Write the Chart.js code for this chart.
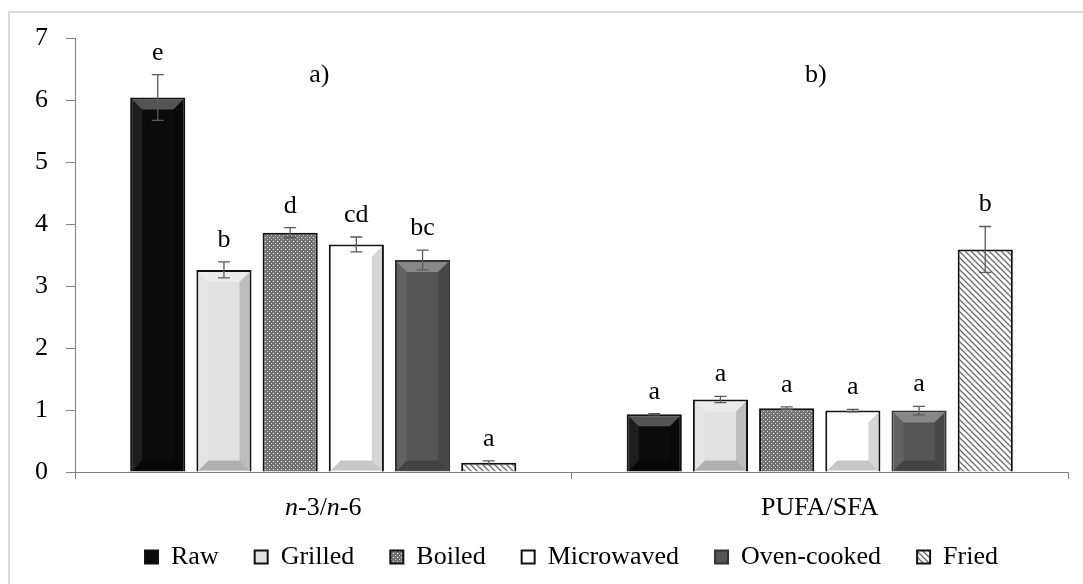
<!DOCTYPE html>
<html>
<head>
<meta charset="utf-8">
<script src="https://cdn.jsdelivr.net/npm/chart.js@4/dist/chart.umd.min.js"></script>
<style>
  html, body { margin: 0; padding: 0; background: #fff; overflow: hidden; }
  canvas { display: block; }
</style>
</head>
<body>
<canvas id="chart" width="1083" height="584"></canvas>
<script>
var categories = ["n-3/n-6", "PUFA/SFA"];
var methods = ["Raw", "Grilled", "Boiled", "Microwaved", "Oven-cooked", "Fried"];

// means
var n3n6 = [6.04, 3.26, 3.86, 3.67, 3.42, 0.15];
var pufaSfa = [0.93, 1.17, 1.03, 0.99, 0.99, 3.59];

// half length of the error bars
var errN3n6 = [0.37, 0.13, 0.08, 0.12, 0.16, 0.03];
var errPufaSfa = [0.01, 0.05, 0.02, 0.02, 0.07, 0.37];

var lettersN3n6 = ["e", "b", "d", "cd", "bc", "a"];
var lettersPufaSfa = ["a", "a", "a", "a", "a", "b"];
var panelLabels = ["a)", "b)"];
var yTicks = [0, 1, 2, 3, 4, 5, 6, 7];

var serif = "'Liberation Serif', 'Times New Roman', serif";

function makeTile(size, paint) {
  var c = document.createElement("canvas");
  c.width = size;
  c.height = size;
  paint(c.getContext("2d"));
  return document.createElement("canvas").getContext("2d").createPattern(c, "repeat");
}

var dotted = makeTile(4, function(g) {
  g.fillStyle = "#747474";
  g.fillRect(0, 0, 4, 4);
  g.fillStyle = "#ececec";
  g.fillRect(1, 1, 1, 1);
  g.fillStyle = "#c4c4c4";
  g.fillRect(3, 3, 1, 1);
});

var hatched = makeTile(6, function(g) {
  g.fillStyle = "#fff";
  g.fillRect(0, 0, 6, 6);
  g.strokeStyle = "#6a6a6a";
  g.lineWidth = 1.3;
  g.beginPath();
  g.moveTo(-1, -1); g.lineTo(7, 7);
  g.moveTo(-1, 5); g.lineTo(1, 7);
  g.moveTo(5, -1); g.lineTo(7, 1);
  g.stroke();
});

var fills = ["#0b0b0b", "#e2e2e2", dotted, "#ffffff", "#555555", hatched];
var borders = ["#111", "#111", "#111", "#111", "#333", "#111"];
var bevels = [true, true, false, true, true, false];

var datasets = methods.map(function(m, i) {
  return {
    label: m,
    data: [n3n6[i], pufaSfa[i]],
    errors: [errN3n6[i], errPufaSfa[i]],
    letters: [lettersN3n6[i], lettersPufaSfa[i]],
    backgroundColor: fills[i],
    borderColor: borders[i],
    borderWidth: 2,
    bevel: bevels[i],
    categoryPercentage: 0.8,
    barPercentage: 0.833
  };
});

var framePlugin = {
  id: "frame",
  beforeDraw: function(chart) {
    var ctx = chart.ctx;
    ctx.save();
    ctx.fillStyle = "#fff";
    ctx.fillRect(0, 0, chart.width, chart.height);
    ctx.strokeStyle = "#d9d9d9";
    ctx.lineWidth = 2;
    ctx.strokeRect(9, 12, 1200, 700);
    ctx.restore();
  }
};

function drawBevel(ctx, x, top, base, width) {
  var l = x - width / 2 + 2, r = x + width / 2 - 2;
  var t = top + 2, b = base - 1;
  var d = Math.min(10, (b - t) / 2);
  if (d <= 1) return;
  ctx.fillStyle = "rgba(255,255,255,0.30)";
  ctx.beginPath();
  ctx.moveTo(l, t); ctx.lineTo(r, t); ctx.lineTo(r - d, t + d); ctx.lineTo(l + d, t + d);
  ctx.closePath(); ctx.fill();
  ctx.fillStyle = "rgba(0,0,0,0.22)";
  ctx.beginPath();
  ctx.moveTo(l, b); ctx.lineTo(r, b); ctx.lineTo(r - d, b - d); ctx.lineTo(l + d, b - d);
  ctx.closePath(); ctx.fill();
  ctx.fillStyle = "rgba(0,0,0,0.16)";
  ctx.beginPath();
  ctx.moveTo(r, t); ctx.lineTo(r, b); ctx.lineTo(r - d, b - d); ctx.lineTo(r - d, t + d);
  ctx.closePath(); ctx.fill();
  ctx.fillStyle = "rgba(255,255,255,0.08)";
  ctx.beginPath();
  ctx.moveTo(l, t); ctx.lineTo(l, b); ctx.lineTo(l + d, b - d); ctx.lineTo(l + d, t + d);
  ctx.closePath(); ctx.fill();
}

function drawMixed(ctx, text, cx, cy) {
  // italic "n" in front of a dash, the rest upright
  var parts = text.split(/(n(?=-))/).filter(function(p) { return p.length; });
  var fonts = parts.map(function(p) {
    return (p === "n" ? "italic " : "") + "26px " + serif;
  });
  var total = 0;
  parts.forEach(function(p, k) { ctx.font = fonts[k]; total += ctx.measureText(p).width; });
  var x = cx - total / 2;
  parts.forEach(function(p, k) {
    ctx.font = fonts[k];
    ctx.fillText(p, x, cy);
    x += ctx.measureText(p).width;
  });
}

var decorPlugin = {
  id: "decor",
  afterDatasetsDraw: function(chart) {
    var ctx = chart.ctx;
    var yScale = chart.scales.y;
    ctx.save();
    chart.data.datasets.forEach(function(ds, i) {
      var meta = chart.getDatasetMeta(i);
      meta.data.forEach(function(bar, j) {
        var p = bar.getProps(["x", "y", "base", "width"], true);
        if (ds.bevel) drawBevel(ctx, p.x, p.y, p.base, p.width);
        var v = ds.data[j], e = ds.errors[j];
        var yHi = yScale.getPixelForValue(v + e);
        var yLo = yScale.getPixelForValue(v - e);
        ctx.strokeStyle = "#5a5a5a";
        ctx.lineWidth = 1.3;
        ctx.beginPath();
        ctx.moveTo(p.x, yHi); ctx.lineTo(p.x, yLo);
        ctx.moveTo(p.x - 6, yHi); ctx.lineTo(p.x + 6, yHi);
        ctx.moveTo(p.x - 6, yLo); ctx.lineTo(p.x + 6, yLo);
        ctx.stroke();
        ctx.fillStyle = "#000";
        ctx.font = "26px " + serif;
        ctx.textAlign = "center";
        ctx.textBaseline = "alphabetic";
        ctx.fillText(ds.letters[j], p.x, yHi - 15);
      });
    });
    ctx.restore();
  },
  afterDraw: function(chart) {
    var ctx = chart.ctx;
    var xScale = chart.scales.x, yScale = chart.scales.y;
    ctx.save();
    ctx.fillStyle = "#000";
    ctx.textAlign = "left";
    ctx.textBaseline = "middle";
    categories.forEach(function(c, j) {
      drawMixed(ctx, c, xScale.getPixelForValue(j), 508);
    });
    ctx.textAlign = "center";
    ctx.font = "26px " + serif;
    panelLabels.forEach(function(t, j) {
      ctx.fillText(t, xScale.getPixelForValue(j) - 4, yScale.getPixelForValue(6.4));
    });
    ctx.restore();
  }
};

new Chart(document.getElementById("chart"), {
  type: "bar",
  data: { labels: categories, datasets: datasets },
  options: {
    responsive: false,
    animation: false,
    devicePixelRatio: 1,
    layout: { padding: { top: 38, right: 15, bottom: 4, left: 0 } },
    scales: {
      x: {
        grid: { offset: true, drawOnChartArea: false, drawTicks: true, tickLength: 7, color: "#808080" },
        border: { color: "#808080" },
        ticks: { display: false },
        afterFit: function(s) { s.height = 36; }
      },
      y: {
        min: 0,
        max: 7,
        afterBuildTicks: function(s) { s.ticks = yTicks.map(function(v) { return { value: v }; }); },
        grid: { drawOnChartArea: false, tickLength: 9, color: "#808080" },
        border: { color: "#808080" },
        ticks: { color: "#000", padding: 18, font: { family: serif, size: 26 } },
        afterFit: function(s) { s.width = 75; }
      }
    },
    plugins: {
      legend: {
        position: "bottom",
        fullSize: false,
        labels: {
          color: "#000",
          boxWidth: 13,
          boxHeight: 13,
          padding: 36,
          font: { family: serif, size: 26 }
        }
      },
      tooltip: { enabled: false }
    }
  },
  plugins: [framePlugin, decorPlugin]
});
</script>
</body>
</html>
